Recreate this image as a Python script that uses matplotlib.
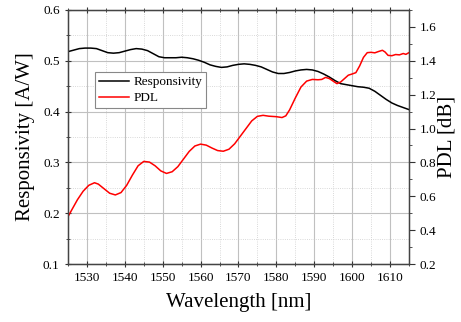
import matplotlib.pyplot as plt
from matplotlib.ticker import MultipleLocator

plt.rcParams['font.family'] = ['Liberation Serif', 'DejaVu Serif']

# Responsivity [A/W] vs wavelength
wl_resp = [1525, 1526.5, 1528, 1529.5, 1531, 1532.5, 1534, 1535.5, 1537, 1538.5,
           1540, 1541.5, 1543, 1544.5, 1546, 1547.5, 1549, 1550.5, 1552, 1553.5,
           1555, 1556.5, 1558, 1559.5, 1561, 1562.5, 1564, 1565.5, 1567, 1568.5,
           1570, 1571.5, 1573, 1574.5, 1576, 1577.5, 1579, 1580.5, 1582, 1583.5,
           1585, 1586.5, 1588, 1589.5, 1591, 1592.5, 1594, 1595.5, 1597, 1598.5,
           1600, 1601.5, 1603, 1604.5, 1606, 1607.5, 1609, 1610.5, 1612, 1613.5, 1615]
resp = [0.518, 0.521, 0.524, 0.525, 0.525, 0.524, 0.520, 0.516, 0.515, 0.516,
        0.519, 0.522, 0.524, 0.523, 0.520, 0.514, 0.508, 0.506, 0.506, 0.506,
        0.507, 0.506, 0.504, 0.501, 0.497, 0.492, 0.489, 0.487, 0.488, 0.491,
        0.493, 0.494, 0.493, 0.491, 0.488, 0.483, 0.478, 0.475, 0.475, 0.477,
        0.480, 0.482, 0.483, 0.482, 0.479, 0.474, 0.468, 0.461, 0.455, 0.453,
        0.451, 0.449, 0.448, 0.446, 0.440, 0.432, 0.424, 0.417, 0.412, 0.408, 0.404]

# PDL [dB] vs wavelength
wl_pdl = [1525, 1526, 1527.5, 1529, 1530.5, 1532, 1533, 1534.5, 1536, 1537.5,
          1539, 1540.5, 1542, 1543.5, 1545, 1546.5, 1548, 1549.5, 1551, 1552.5,
          1554, 1555.5, 1557, 1558.5, 1560, 1561.5, 1563, 1564.5, 1566, 1567.5,
          1569, 1570.5, 1572, 1573.5, 1575, 1576.5, 1578, 1580, 1581.5, 1582.5,
          1583.5, 1585, 1586.5, 1588, 1589.5, 1591, 1592, 1593, 1594, 1595,
          1596, 1597, 1598, 1599, 1600, 1601, 1602, 1603, 1604, 1605,
          1606, 1607, 1608, 1608.7, 1609.5, 1610.5, 1611.5, 1612.5, 1613.5, 1614.2, 1615]
pdl = [0.48, 0.52, 0.58, 0.63, 0.665, 0.68, 0.672, 0.645, 0.618, 0.608,
       0.622, 0.665, 0.725, 0.78, 0.806, 0.802, 0.78, 0.75, 0.735, 0.745,
       0.775, 0.82, 0.865, 0.897, 0.908, 0.902, 0.885, 0.87, 0.866, 0.878,
       0.91, 0.955, 1.0, 1.045, 1.072, 1.078, 1.073, 1.07, 1.065, 1.075,
       1.11, 1.18, 1.245, 1.28, 1.29, 1.288, 1.29, 1.302, 1.295, 1.28,
       1.265, 1.275, 1.295, 1.315, 1.322, 1.33, 1.37, 1.42, 1.448, 1.45,
       1.447, 1.455, 1.462, 1.452, 1.432, 1.43, 1.437, 1.435, 1.443, 1.438, 1.448]

fig = plt.figure(figsize=(4.61, 3.22), dpi=100)
ax = fig.add_axes([0.1475, 0.18, 0.7395, 0.789])
ax2 = ax.twinx()

l1, = ax.plot(wl_resp, resp, color='black', lw=1.1, label='Responsivity')
l2, = ax2.plot(wl_pdl, pdl, color='#ff0000', lw=1.1, label='PDL')

ax.set_xlim(1525, 1615)
ax.set_ylim(0.1, 0.6)
ax2.set_ylim(0.2, 1.7)

ax.xaxis.set_major_locator(MultipleLocator(10))
ax.xaxis.set_minor_locator(MultipleLocator(5))
ax.yaxis.set_major_locator(MultipleLocator(0.1))
ax.yaxis.set_minor_locator(MultipleLocator(0.05))
ax2.yaxis.set_major_locator(MultipleLocator(0.2))
ax2.yaxis.set_minor_locator(MultipleLocator(0.1))

ax.grid(which='major', color='#c0c0c0', lw=0.8, ls='-')
ax.grid(which='minor', color='#cccccc', lw=0.6, ls=':')
ax.set_axisbelow(True)

ax.tick_params(axis='both', which='both', direction='inout', top=True, labelsize=9.5,
               color='#333333')
ax.tick_params(which='major', length=5)
ax.tick_params(which='minor', length=3)
ax2.tick_params(axis='y', which='both', direction='out', labelsize=9.5, color='#333333')
ax2.tick_params(which='major', length=4)
ax2.tick_params(which='minor', length=2.5)
ax.tick_params(axis='x', which='both', top=True, labeltop=False)

for sp in ax2.spines.values():
    sp.set_color('#444444')
    sp.set_linewidth(1.0)

ax.set_yticklabels([f'{v:.1f}' for v in ax.get_yticks()])
ax.set_xlabel('Wavelength [nm]', fontsize=15, labelpad=6)
ax.set_ylabel('Responsivity [A/W]', fontsize=15, labelpad=6)
ax2.set_ylabel('PDL [dB]', fontsize=15, labelpad=1)

leg = ax.legend([l1, l2], ['Responsivity', 'PDL'], loc='upper left',
                bbox_to_anchor=(0.079, 0.756), fontsize=9.5, fancybox=False,
                framealpha=1, edgecolor='#888888', borderpad=0.3,
                handlelength=2.3, handletextpad=0.3, labelspacing=0.3,
                borderaxespad=0)
leg.get_frame().set_linewidth(0.8)
leg.set_zorder(10)

fig.savefig('out.png', dpi=100)
